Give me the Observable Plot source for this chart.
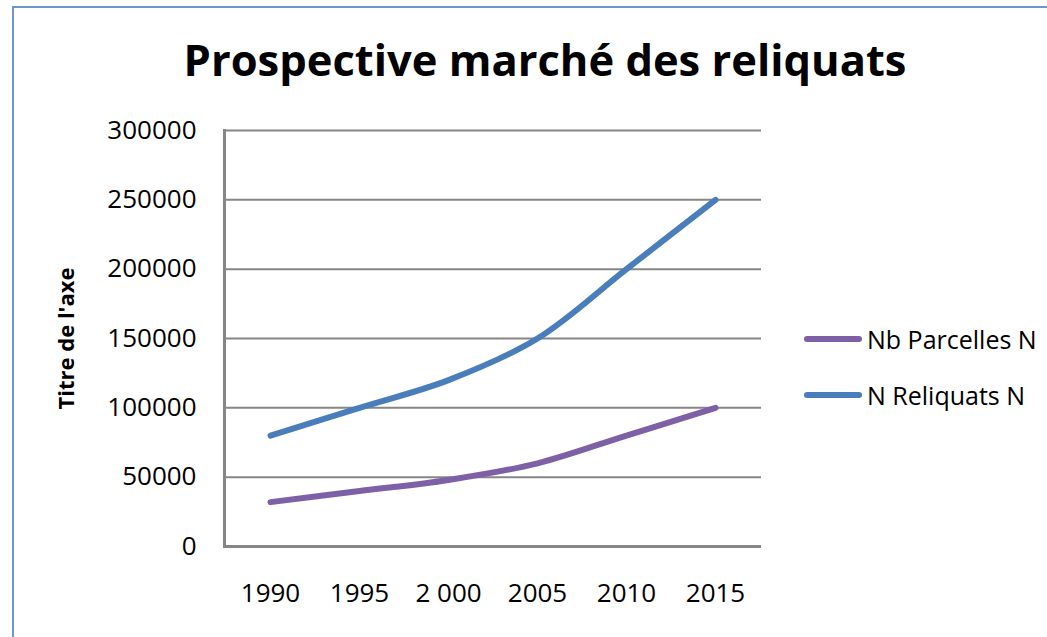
<!DOCTYPE html>
<html>
<head>
<meta charset="utf-8">
<script src="https://cdn.jsdelivr.net/npm/d3@7"></script>
<script src="https://cdn.jsdelivr.net/npm/@observablehq/plot@0.6"></script>
<style>
  html, body { margin: 0; padding: 0; background: #fff; overflow: hidden; }
  body { width: 1047px; height: 637px; position: relative; font-family: "Open Sans", sans-serif; }
  #border { position: absolute; left: 12px; top: 6px; width: 1100px; height: 700px; border: 2px solid #6f96cb; box-sizing: border-box; }
  #title { position: absolute; left: 0; top: 30px; width: 1090px; text-align: center; font-weight: bold; font-size: 43.5px; line-height: 60px; color: #000; }
  #chart { position: absolute; left: 0; top: 110px; }
  #legend { position: absolute; left: 804px; top: 322px; font-size: 25px; color: #000; }
  .item { position: absolute; left: 0; display: flex; align-items: center; white-space: nowrap; }
  .sw { width: 58px; height: 6px; border-radius: 3px; margin-right: 5px; }
</style>
</head>
<body>
<div id="border"></div>
<div id="title">Prospective marché des reliquats</div>
<div id="chart"></div>
<div id="legend"></div>
<script>
const years = ["1990", "1995", "2 000", "2005", "2010", "2015"];
const seriesNames = ["Nb Parcelles N", "N Reliquats N"];
const nbParcelles = [32000, 40000, 48000, 60000, 80000, 100000];
const nReliquats = [80000, 100000, 120000, 150000, 200000, 250000];
const yTicks = [0, 50000, 100000, 150000, 200000, 250000, 300000];
const colors = ["#7e60a6", "#4a7ebb"];

const data = [
  ...years.map((y, i) => ({year: y, value: nbParcelles[i], series: seriesNames[0]})),
  ...years.map((y, i) => ({year: y, value: nReliquats[i], series: seriesNames[1]}))
];

const chart = Plot.plot({
  width: 1047,
  height: 527,
  marginLeft: 224,
  marginRight: 286,
  marginTop: 20,
  marginBottom: 91,
  style: {fontFamily: "'Open Sans', sans-serif", fontSize: "26px", color: "#000", background: "transparent", overflow: "visible"},
  x: {type: "point", domain: years, padding: 0.5},
  y: {domain: [0, 300000]},
  color: {domain: seriesNames, range: colors},
  marks: [
    Plot.ruleY(yTicks, {stroke: "#868686", strokeWidth: 2, strokeOpacity: 1}),
    Plot.ruleY([0], {stroke: "#868686", strokeWidth: 3, strokeOpacity: 1}),
    Plot.frame({anchor: "left", stroke: "#868686", strokeWidth: 3, strokeOpacity: 1}),
    Plot.axisY({ticks: yTicks, tickSize: 0, tickPadding: 28, tickFormat: d => String(d),
      label: "Titre de l'axe", labelAnchor: "center", labelOffset: 166, labelArrow: false,
      fontSize: 26}),
    Plot.axisX({tickSize: 0, tickPadding: 37, label: null, fontSize: 26}),
    Plot.line(data, {x: "year", y: "value", z: "series", stroke: "series", strokeWidth: 6,
      curve: "catmull-rom", strokeLinecap: "round", strokeLinejoin: "round"})
  ]
});
document.getElementById("chart").appendChild(chart);

chart.querySelectorAll("[aria-label='y-axis label'] text, [aria-label='y-axis label']").forEach(el => {
  el.style.fontWeight = "bold";
  el.style.fontSize = "22px";
});

const legend = document.getElementById("legend");
const legendTops = [0, 56];
seriesNames.forEach((name, i) => {
  const item = document.createElement("div");
  item.className = "item";
  item.style.top = (legendTops[i]) + "px";
  const sw = document.createElement("div");
  sw.className = "sw";
  sw.style.background = colors[i];
  const t = document.createElement("span");
  t.textContent = name;
  item.appendChild(sw);
  item.appendChild(t);
  legend.appendChild(item);
});
</script>
</body>
</html>
